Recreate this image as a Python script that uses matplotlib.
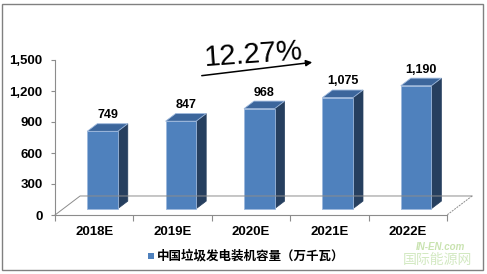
import matplotlib.pyplot as plt
from matplotlib.patches import Polygon, Rectangle, FancyArrowPatch

years = ["2018E", "2019E", "2020E", "2021E", "2022E"]
capacity = [749, 847, 968, 1075, 1190]
yticks = [0, 300, 600, 900, 1200, 1500]
growth_label = "12.27%"
legend_label = "中国垃圾发电装机容量（万千瓦）"

FRONT = "#4F81BD"
TOP = "#3C669C"
SIDE = "#263F5F"
EDGE = "#9DB8DC"
GRAY = "#8C8C8C"

# fake 3D: floor depth vector in data units, bar placement inside it
DX, DY = 0.32, 184
F0, FD = 0.33, 0.40
W = 0.39

plt.rcParams["font.family"] = ["Liberation Sans", "Noto Sans CJK SC", "DejaVu Sans"]

fig = plt.figure(figsize=(4.87, 2.74), dpi=100)
W_PX, H_PX = 487, 274
ax = fig.add_axes([55 / W_PX, 1 - 215 / H_PX, 392 / W_PX, 155 / H_PX])
ax.set_xlim(-0.5, len(years) - 0.5)
ax.set_ylim(0, 1500)

# floor outline
n = len(years)
floor = [(-0.5, 0), (-0.5 + DX, DY), (n - 0.5 + DX, DY), (n - 0.5, 0)]
ax.plot([p[0] for p in floor[:3]], [p[1] for p in floor[:3]], color=GRAY, lw=0.7, clip_on=False)
ax.plot([floor[2][0], floor[3][0]], [floor[2][1], floor[3][1]], color=GRAY, lw=0.7,
        ls=(0, (2, 1)), clip_on=False)

for i, v in enumerate(capacity):
    x0 = i - W / 2 + F0 * DX
    y0 = F0 * DY
    ddx, ddy = FD * DX, FD * DY
    side = Polygon([(x0 + W, y0), (x0 + W + ddx, y0 + ddy), (x0 + W + ddx, y0 + ddy + v),
                    (x0 + W, y0 + v)], closed=True, fc=SIDE, ec=SIDE, lw=0.5, clip_on=False)
    top = Polygon([(x0, y0 + v), (x0 + W, y0 + v), (x0 + W + ddx, y0 + ddy + v),
                   (x0 + ddx, y0 + ddy + v)], closed=True, fc=TOP, ec=EDGE, lw=0.6, clip_on=False)
    front = Rectangle((x0, y0), W, v, fc=FRONT, ec=EDGE, lw=0.6, clip_on=False)
    ax.add_patch(side)
    ax.add_patch(top)
    ax.add_patch(front)
    ax.text(x0 + W / 2 + ddx / 2, y0 + ddy + v + 25, f"{v:,}", ha="center", va="bottom",
            fontsize=9, fontweight="bold", clip_on=False)

for s in ["top", "right"]:
    ax.spines[s].set_visible(False)
for s in ["left", "bottom"]:
    ax.spines[s].set_color(GRAY)
    ax.spines[s].set_linewidth(0.8)

ax.set_yticks(yticks, [f"{t:,}" for t in yticks])
ax.tick_params(axis="y", length=3, color=GRAY, pad=6, labelsize=9.5)
for lab in ax.get_yticklabels():
    lab.set_fontweight("bold")

bounds = [i - 0.5 for i in range(n + 1)]
ax.set_xticks(bounds, [""] * len(bounds))
ax.set_xticks(range(n), years, minor=True)
ax.tick_params(axis="x", which="major", length=4, color=GRAY)
ax.tick_params(axis="x", which="minor", length=0, pad=8, labelsize=9.5)
for lab in ax.get_xticklabels(minor=True):
    lab.set_fontweight("bold")


def fpos(x, y):
    return (x / W_PX, 1 - y / H_PX)


# growth arrow + label
fig.patches.append(FancyArrowPatch(
    fpos(199, 76), fpos(315, 62), transform=fig.transFigure, arrowstyle="-|>",
    mutation_scale=9, color="black", lw=1.1))
fig.text(*fpos(253, 55), growth_label, fontsize=21, ha="center", va="center", rotation=4)

# legend
fig.patches.append(Rectangle(fpos(148, 259), 6 / W_PX, 6 / H_PX, transform=fig.transFigure,
                             fc=FRONT, ec="none"))
fig.text(*fpos(157, 256), legend_label, fontsize=9, fontweight="black", ha="left", va="center",
         family=["Noto Sans CJK SC", "DejaVu Sans"])

# watermark
fig.text(*fpos(440, 247), "IN-EN.com", fontsize=7, color="#C9E3B0", ha="center", va="center",
         fontweight="bold", style="italic")
fig.text(*fpos(437, 260), "国际能源网", fontsize=10, color="#D3E9C2", ha="center", va="center",
         family=["Noto Sans CJK SC"])

# border
fig.patches.append(Rectangle(fpos(2, 270), 481 / W_PX, 266 / H_PX, transform=fig.transFigure,
                             fill=False, ec="#808080", lw=1))

fig.savefig("out.png", dpi=100)
